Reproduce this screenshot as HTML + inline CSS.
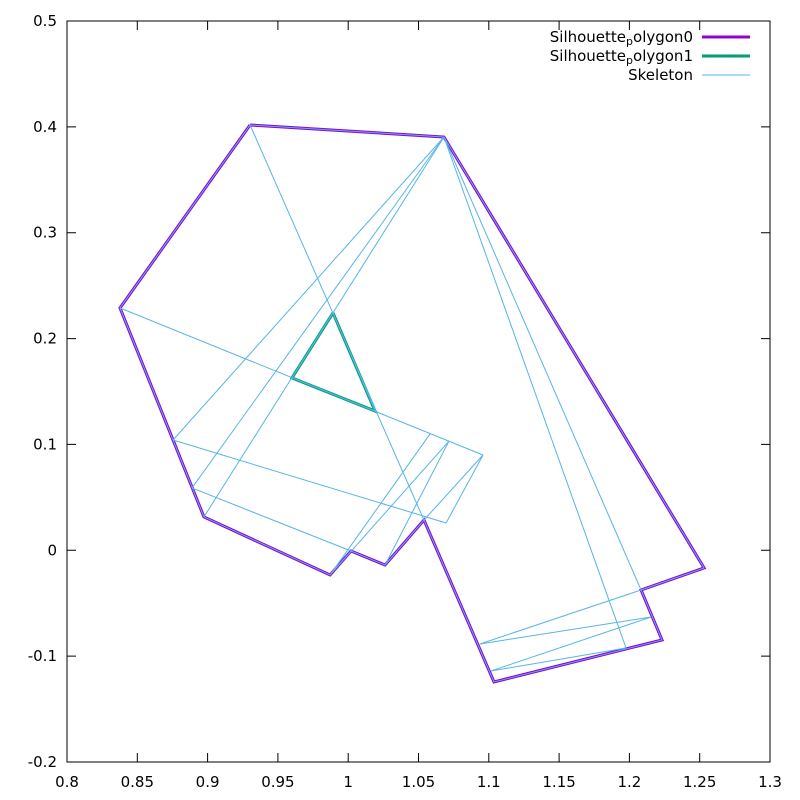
<!DOCTYPE html>
<html><head><meta charset="utf-8"><style>
body{margin:0;background:#fff}
svg{display:block;font-family:"DejaVu Sans","Liberation Sans",sans-serif}
</style></head><body>
<svg id="c" width="800" height="800" viewBox="0 0 800 800"></svg>
<script>
const xTicks=[0.8,0.85,0.9,0.95,1,1.05,1.1,1.15,1.2,1.25,1.3];
const xTickLabels=["0.8","0.85","0.9","0.95","1","1.05","1.1","1.15","1.2","1.25","1.3"];
const yTicks=[-0.2,-0.1,0,0.1,0.2,0.3,0.4,0.5];
const yTickLabels=["-0.2","-0.1","0","0.1","0.2","0.3","0.4","0.5"];
const poly0X=[0.9302,1.0681,1.2531,1.2083,1.2232,1.1037,1.0539,1.0262,1.0020,0.9871,0.8974,0.8377,0.9302];
const poly0Y=[0.4018,0.3904,-0.0167,-0.0375,-0.0847,-0.1244,0.0286,-0.0139,-0.0007,-0.0233,0.0315,0.2289,0.4018];
const poly1X=[0.9892,1.0191,0.9600,0.9892];
const poly1Y=[0.2242,0.1316,0.1628,0.2242];
const skelX1=[0.9302,0.8377,1.0681,1.0681,1.0681,1.0681,1.0681,0.8754,1.0696,0.8889,0.9871,0.9871,1.0262,1.0539,1.0937,1.0937,1.1016,1.1016];
const skelY1=[0.4018,0.2289,0.3904,0.3904,0.3904,0.3904,0.3904,0.1042,0.0258,0.0589,-0.0233,-0.0233,-0.0139,0.0286,-0.0885,-0.0885,-0.1140,-0.1140];
const skelX2=[1.0539,1.0959,0.8754,0.8889,0.8974,1.1976,1.2083,1.0696,1.0959,1.0020,1.0582,1.0717,1.0717,1.0959,1.2083,1.2154,1.2154,1.1976];
const skelY2=[0.0286,0.0900,0.1042,0.0589,0.0315,-0.0923,-0.0375,0.0258,0.0900,-0.0007,0.1099,0.1032,0.1032,0.0900,-0.0375,-0.0630,-0.0630,-0.0923];

const L=67,R=770,T=21,B=762;
const X=v=>L+(v-0.8)/(0.5)*(R-L);
const Y=v=>B-(v+0.2)/(0.7)*(B-T);
const svg=document.getElementById('c');
const NS='http://www.w3.org/2000/svg';
function mk(tag,attrs,parent){const e=document.createElementNS(NS,tag);for(const k in attrs)e.setAttribute(k,attrs[k]);(parent||svg).appendChild(e);return e;}

const frame=mk('rect',{x:L,y:T,width:R-L,height:B-T,fill:'none',stroke:'#000','stroke-width':1});



xTicks.forEach((v,i)=>{
  const x=X(v);
  const t=mk('path',{d:`M${x},${B}v-9M${x},${T}v9`,stroke:'#000','stroke-width':1});
  
  
  const lb=mk('text',{x:x,y:B+25,'text-anchor':'middle','font-size':15,fill:'#000'});
  lb.textContent=xTickLabels[i];
  
  
});
yTicks.forEach((v,i)=>{
  const y=Y(v);
  const t=mk('path',{d:`M${L},${y}h9M${R},${y}h-9`,stroke:'#000','stroke-width':1});
  
  
  const lb=mk('text',{x:L-10,y:y+5,'text-anchor':'end','font-size':15,fill:'#000'});
  lb.textContent=yTickLabels[i];
  
  
});

function pts(xs,ys){return xs.map((x,i)=>X(x)+','+Y(ys[i])).join(' ');}
const p0=mk('polyline',{points:pts(poly0X,poly0Y),fill:'none',stroke:'#9400d3','stroke-width':3});


const p1=mk('polyline',{points:pts(poly1X,poly1Y),fill:'none',stroke:'#009e73','stroke-width':3});


const g=mk('g',{stroke:'#56b4e9','stroke-width':1,fill:'none'});


skelX1.forEach((_,i)=>{
  const l=mk('line',{x1:X(skelX1[i]),y1:Y(skelY1[i]),x2:X(skelX2[i]),y2:Y(skelY2[i])},g);
  
  
});
const e0=mk('polyline',{points:pts(poly0X,poly0Y)},g);


const e1=mk('polyline',{points:pts(poly1X,poly1Y)},g);



const subs=["polygon0","polygon1",""];
const cols=['#9400d3','#009e73','#56b4e9'];
const wid=[3,3,1];
[0,1,2].forEach(i=>{
  const y=37+i*19;
  const tx=mk('text',{x:693,y:y+5,'text-anchor':'end','font-size':15,fill:'#000'});
  
  
  if(subs[i]){
    const a=mk('tspan',{},tx);a.textContent='Silhouette';
    const b=mk('tspan',{'font-size':11,dy:3},tx);b.textContent='p';
    const c=mk('tspan',{dy:-3},tx);c.textContent=subs[i].slice(1);
  } else tx.textContent='Skeleton';
  const ln=mk('line',{x1:702,y1:y,x2:750,y2:y,stroke:cols[i],'stroke-width':wid[i]});
  
  
});
</script>
</body></html>
